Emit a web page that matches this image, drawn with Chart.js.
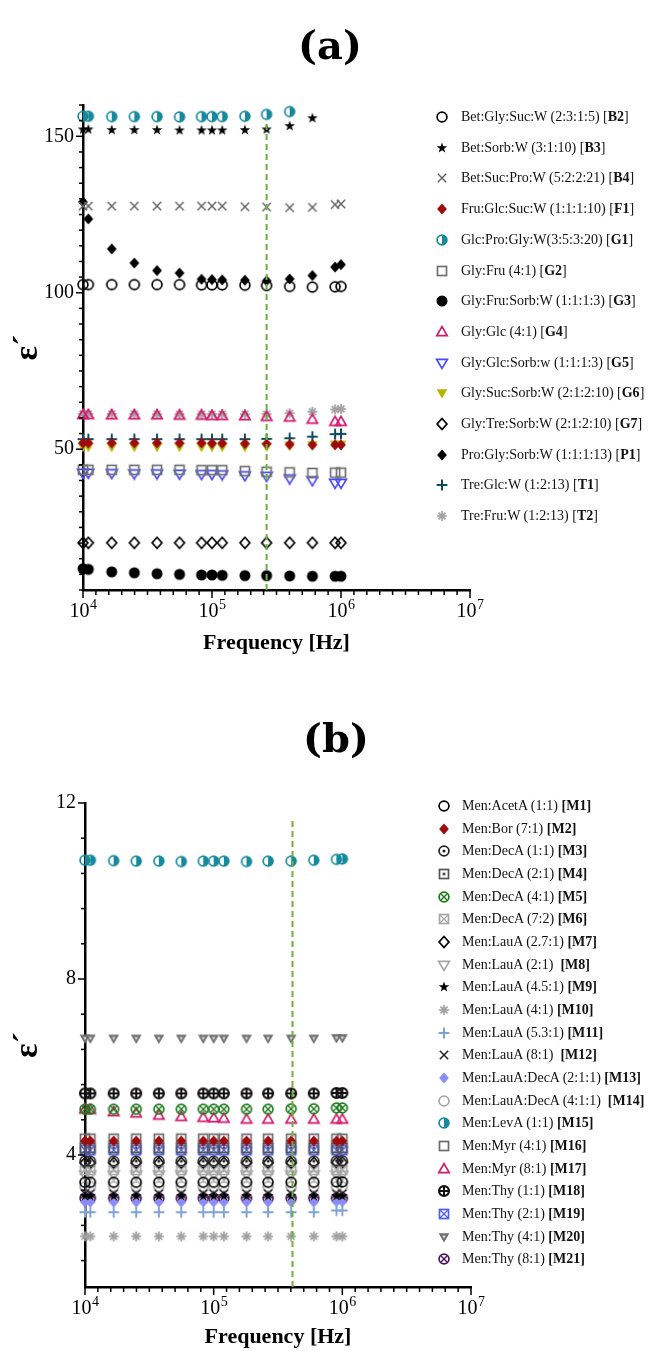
<!DOCTYPE html>
<html>
<head>
<meta charset="utf-8">
<script src="https://cdn.jsdelivr.net/npm/chart.js@4.4.0/dist/chart.umd.min.js"></script>
<style>
body { margin:0; background:#fff; width:649px; height:1351px; position:relative; overflow:hidden; font-family:'Liberation Serif', serif; }
canvas.chart { position:absolute; left:0; }
#chartA { top:0; }
#chartB { top:690px; }
.ptitle { position:absolute; left:0; width:660px; text-align:center; font:bold 40px 'DejaVu Serif', serif; line-height:50px; color:#000; }
.row { position:absolute; display:flex; align-items:center; height:20px; white-space:pre; font-size:14px; color:#111; }
.row canvas { flex:none; }
</style>
</head>
<body>
<canvas id="chartA" class="chart" width="649" height="665"></canvas>
<canvas id="chartB" class="chart" width="649" height="661"></canvas>
<div class="ptitle" style="top:20px">(a)</div>
<div class="ptitle" style="top:713px;left:6px">(b)</div>
<div id="legendA"></div>
<div id="legendB"></div>
<script>
// frequencies (Hz) measured
const freqs = [10000, 11000, 16700, 25000, 37500, 56000, 83000, 100000, 120000, 180000, 265000, 400000, 600000, 900000, 1000000];

// x axis decades (labels 10^4 .. 10^7)
const xDecades = [4, 5, 6, 7];

// ---------- panel (a) ----------
const yLabelsA = [50, 100, 150];
const yMinA = 5, yMaxA = 160, yStepA = 5;
const cutA = 265000, cutTopA = 154.5;

const namesA = ['Bet:Gly:Suc:W (2:3:1:5)', 'Bet:Sorb:W (3:1:10)', 'Bet:Suc:Pro:W (5:2:2:21)', 'Fru:Glc:Suc:W (1:1:1:10)',
  'Glc:Pro:Gly:W(3:5:3:20)', 'Gly:Fru (4:1)', 'Gly:Fru:Sorb:W (1:1:1:3)', 'Gly:Glc (4:1)', 'Gly:Glc:Sorb:w (1:1:1:3)',
  'Gly:Suc:Sorb:W (2:1:2:10)', 'Gly:Tre:Sorb:W (2:1:2:10)', 'Pro:Gly:Sorb:W (1:1:1:13)', 'Tre:Glc:W (1:2:13)', 'Tre:Fru:W (1:2:13)'];
const codesA = ['B2', 'B3', 'B4', 'F1', 'G1', 'G2', 'G3', 'G4', 'G5', 'G6', 'G7', 'P1', 'T1', 'T2'];

const B2 = [102.6, 102.6, 102.6, 102.6, 102.6, 102.6, 102.5, 102.5, 102.5, 102.4, 102.3, 102.0, 101.8, 101.9, 102.0];
const B3 = [152.2, 152.2, 152.0, 152.0, 152.0, 151.9, 151.9, 151.9, 151.9, 152.0, 152.2, 153.3, 155.8];
const B4 = [127.7, 127.7, 127.7, 127.7, 127.7, 127.7, 127.7, 127.7, 127.7, 127.5, 127.4, 127.2, 127.3, 128.2, 128.4];
const F1 = [52.0, 52.0, 52.0, 52.0, 52.0, 52.0, 52.0, 51.9, 51.9, 51.8, 51.7, 51.5, 51.4, 51.4, 51.4];
const G1 = [156.4, 156.4, 156.3, 156.3, 156.3, 156.2, 156.3, 156.3, 156.3, 156.4, 157.0, 157.9];
const G2 = [43.4, 43.4, 43.4, 43.4, 43.4, 43.4, 43.3, 43.3, 43.3, 43.0, 42.8, 42.6, 42.4, 42.5, 42.5];
const G3 = [11.8, 11.6, 10.8, 10.5, 10.2, 10.0, 9.8, 9.8, 9.7, 9.6, 9.6, 9.5, 9.4, 9.4, 9.4];
const G4 = [61.0, 61.0, 60.9, 60.9, 60.9, 60.8, 60.8, 60.7, 60.7, 60.6, 60.4, 60.2, 59.5, 58.8, 58.8];
const G5 = [42.4, 42.4, 42.3, 42.2, 42.2, 42.1, 42.0, 42.0, 41.9, 41.6, 41.4, 40.6, 40.0, 39.2, 39.2];
const G6 = [50.8, 50.8, 50.8, 50.8, 50.8, 50.8, 50.8, 50.8, 50.8, 50.8, 50.9, 51.2, 51.3, 51.5, 51.5];
const G7 = [20.1, 20.1, 20.1, 20.1, 20.1, 20.1, 20.1, 20.1, 20.1, 20.1, 20.1, 20.1, 20.1, 20.1, 20.1];
const P1 = [129.0, 123.6, 114.0, 109.5, 107.1, 106.3, 104.3, 104.2, 104.1, 104.0, 103.8, 104.4, 105.5, 108.2, 109.0];
const T1 = [53.2, 53.2, 53.2, 53.2, 53.2, 53.2, 53.2, 53.2, 53.2, 53.2, 53.3, 53.5, 54.0, 54.8, 54.9];
const T2 = [61.3, 61.3, 61.3, 61.3, 61.2, 61.2, 61.2, 61.2, 61.2, 61.2, 61.2, 61.5, 62.0, 62.7, 62.9];
const valuesA = [B2, B3, B4, F1, G1, G2, G3, G4, G5, G6, G7, P1, T1, T2];

const shapesA = ['circle', 'star', 'x', 'diamondFill', 'half', 'square', 'circleFill', 'triUp', 'triDown', 'triDownFill', 'diamond', 'diamondFill', 'plus', 'asterisk'];
const colorsA = ['#000', '#000', '#666', '#9E0B0F', '#168A9C', '#707070', '#000', '#D4176B', '#4848F8', '#B5B500', '#000', '#000', '#0E4C5E', '#A0A0A0'];

// ---------- panel (b) ----------
const yLabelsB = [4, 8, 12];
const yMinB = 1, yMaxB = 12, yStepB = 0.8;
const cutB = 410000, cutTopB = 11.62;

const namesB = ['Men:AcetA (1:1)', 'Men:Bor (7:1)', 'Men:DecA (1:1)', 'Men:DecA (2:1)', 'Men:DecA (4:1)', 'Men:DecA (7:2)',
  'Men:LauA (2.7:1)', 'Men:LauA (2:1) ', 'Men:LauA (4.5:1)', 'Men:LauA (4:1)', 'Men:LauA (5.3:1)', 'Men:LauA (8:1) ',
  'Men:LauA:DecA (2:1:1)', 'Men:LauA:DecA (4:1:1) ', 'Men:LevA (1:1)', 'Men:Myr (4:1)', 'Men:Myr (8:1)', 'Men:Thy (1:1)',
  'Men:Thy (2:1)', 'Men:Thy (4:1)', 'Men:Thy (8:1)'];
const codesB = ['M1', 'M2', 'M3', 'M4', 'M5', 'M6', 'M7', 'M8', 'M9', 'M10', 'M11', 'M12', 'M13', 'M14', 'M15', 'M16', 'M17', 'M18', 'M19', 'M20', 'M21'];

const M1 = [3.38, 3.38, 3.38, 3.38, 3.38, 3.38, 3.38, 3.38, 3.38, 3.38, 3.38, 3.38, 3.38, 3.39, 3.39];
const M2 = [4.32, 4.32, 4.32, 4.32, 4.32, 4.32, 4.32, 4.32, 4.32, 4.32, 4.32, 4.32, 4.32, 4.32, 4.32];
const M3 = [3.86, 3.86, 3.86, 3.86, 3.86, 3.86, 3.86, 3.86, 3.86, 3.86, 3.86, 3.86, 3.86, 3.87, 3.87];
const M4 = [4.16, 4.16, 4.16, 4.16, 4.16, 4.16, 4.16, 4.16, 4.16, 4.16, 4.16, 4.16, 4.16, 4.16, 4.16];
const M5 = [5.04, 5.04, 5.04, 5.04, 5.04, 5.04, 5.04, 5.04, 5.04, 5.04, 5.04, 5.05, 5.05, 5.07, 5.07];
const M6 = [3.66, 3.66, 3.66, 3.66, 3.66, 3.66, 3.66, 3.66, 3.66, 3.66, 3.66, 3.66, 3.66, 3.66, 3.66];
const M7 = [3.82, 3.82, 3.82, 3.82, 3.82, 3.82, 3.82, 3.82, 3.82, 3.82, 3.82, 3.82, 3.82, 3.83, 3.83];
const M8 = [3.55, 3.55, 3.55, 3.55, 3.55, 3.55, 3.55, 3.55, 3.55, 3.55, 3.55, 3.55, 3.55, 3.55, 3.55];
const M9 = [3.07, 3.07, 3.07, 3.07, 3.07, 3.07, 3.07, 3.07, 3.07, 3.07, 3.07, 3.07, 3.07, 3.07, 3.07];
const M10 = [2.15, 2.15, 2.15, 2.15, 2.15, 2.15, 2.15, 2.15, 2.15, 2.15, 2.15, 2.15, 2.15, 2.15, 2.15];
const M11 = [2.70, 2.70, 2.70, 2.70, 2.70, 2.70, 2.70, 2.70, 2.70, 2.70, 2.70, 2.70, 2.70, 2.74, 2.74];
const M12 = [3.12, 3.12, 3.12, 3.12, 3.12, 3.12, 3.12, 3.12, 3.12, 3.12, 3.12, 3.12, 3.12, 3.12, 3.12];
const M13 = [2.93, 2.93, 2.93, 2.93, 2.93, 2.93, 2.93, 2.93, 2.93, 2.93, 2.93, 2.93, 2.93, 2.94, 2.94];
const M14 = [3.28, 3.28, 3.28, 3.28, 3.28, 3.28, 3.28, 3.28, 3.28, 3.28, 3.28, 3.28, 3.28, 3.28, 3.28];
const M15 = [10.70, 10.70, 10.69, 10.68, 10.68, 10.67, 10.68, 10.68, 10.68, 10.67, 10.68, 10.68, 10.70, 10.72, 10.73];
const M16 = [4.37, 4.37, 4.37, 4.37, 4.37, 4.37, 4.37, 4.37, 4.37, 4.37, 4.37, 4.37, 4.37, 4.37, 4.37];
const M17 = [5.04, 5.03, 4.98, 4.95, 4.90, 4.87, 4.85, 4.84, 4.83, 4.81, 4.81, 4.81, 4.81, 4.81, 4.81];
const M18 = [5.40, 5.40, 5.40, 5.40, 5.40, 5.40, 5.40, 5.40, 5.40, 5.40, 5.40, 5.40, 5.40, 5.41, 5.41];
const M19 = [4.11, 4.11, 4.11, 4.11, 4.11, 4.11, 4.11, 4.11, 4.11, 4.11, 4.11, 4.11, 4.11, 4.11, 4.11];
const M20 = [6.65, 6.65, 6.65, 6.65, 6.65, 6.65, 6.65, 6.65, 6.65, 6.65, 6.65, 6.65, 6.65, 6.66, 6.66];
const M21 = [3.02, 3.02, 3.02, 3.02, 3.02, 3.02, 3.02, 3.02, 3.02, 3.02, 3.02, 3.02, 3.02, 3.02, 3.02];
const valuesB = [M1, M2, M3, M4, M5, M6, M7, M8, M9, M10, M11, M12, M13, M14, M15, M16, M17, M18, M19, M20, M21];

const shapesB = ['circle', 'diamondFill', 'circleDot', 'squareDot', 'circleX', 'squareX', 'diamond', 'triDown', 'star', 'asterisk', 'plus', 'x',
  'diamondFill', 'circle', 'half', 'square', 'triUp', 'circlePlus', 'squareX', 'triDownGray', 'circleX'];
const colorsB = ['#000', '#9E0B0F', '#222', '#555', '#1C7A1C', '#A8A8A8', '#000', '#A8A8A8', '#000', '#A0A0A0', '#7FA3D6', '#222',
  '#8C8CF8', '#A8A8A8', '#168A9C', '#6A6A6A', '#D4176B', '#111', '#4E5EE8', '#6E6E6E', '#4B1060'];

// marker images
function makeMarker(shape, color) {
  const size = 14;
  const c = document.createElement('canvas');
  c.width = size; c.height = size;
  const g = c.getContext('2d');
  const m = size / 2, r = 4.9;
  g.strokeStyle = color; g.fillStyle = color; g.lineWidth = 1.7;
  const line = (x1, y1, x2, y2) => { g.beginPath(); g.moveTo(x1, y1); g.lineTo(x2, y2); g.stroke(); };
  const circ = () => { g.beginPath(); g.arc(m, m, r, 0, Math.PI * 2); };
  const sq = r * 0.92;
  switch (shape) {
    case 'circle': circ(); g.stroke(); break;
    case 'circleFill': g.beginPath(); g.arc(m, m, r + 0.6, 0, Math.PI * 2); g.fill(); break;
    case 'circleDot': circ(); g.stroke(); g.beginPath(); g.arc(m, m, 1.5, 0, Math.PI * 2); g.fill(); break;
    case 'circleX': circ(); g.stroke(); g.lineWidth = 1.3;
      line(m - r * 0.7, m - r * 0.7, m + r * 0.7, m + r * 0.7); line(m - r * 0.7, m + r * 0.7, m + r * 0.7, m - r * 0.7); break;
    case 'circlePlus': g.lineWidth = 2.3; circ(); g.stroke(); g.lineWidth = 2;
      line(m - r, m, m + r, m); line(m, m - r, m, m + r); break;
    case 'half': circ(); g.stroke(); g.beginPath(); g.arc(m, m, r, -Math.PI / 2, Math.PI / 2); g.closePath(); g.fill(); break;
    case 'square': g.strokeRect(m - sq, m - sq, sq * 2, sq * 2); break;
    case 'squareDot': g.strokeRect(m - sq, m - sq, sq * 2, sq * 2); g.fillRect(m - 1.4, m - 1.4, 2.8, 2.8); break;
    case 'squareX': g.strokeRect(m - sq, m - sq, sq * 2, sq * 2); g.lineWidth = 1.2;
      line(m - sq, m - sq, m + sq, m + sq); line(m - sq, m + sq, m + sq, m - sq); break;
    case 'diamond':
    case 'diamondFill':
      g.beginPath(); g.moveTo(m, m - r - 0.6); g.lineTo(m + r, m); g.lineTo(m, m + r + 0.6); g.lineTo(m - r, m); g.closePath();
      if (shape === 'diamond') g.stroke(); else g.fill(); break;
    case 'triUp':
      g.beginPath(); g.moveTo(m, m - r - 0.5); g.lineTo(m + r + 0.3, m + r * 0.75); g.lineTo(m - r - 0.3, m + r * 0.75); g.closePath(); g.stroke(); break;
    case 'triDown':
    case 'triDownFill':
    case 'triDownGray':
      g.beginPath(); g.moveTo(m, m + r + 0.5); g.lineTo(m + r + 0.5, m - r * 0.75); g.lineTo(m - r - 0.5, m - r * 0.75); g.closePath();
      if (shape === 'triDown') g.stroke(); else g.fill();
      if (shape === 'triDownGray') {
        g.fillStyle = '#d8d8d8';
        g.beginPath(); g.moveTo(m, m + 2); g.lineTo(m + 1.8, m - 1.4); g.lineTo(m - 1.8, m - 1.4); g.closePath(); g.fill();
      }
      break;
    case 'star':
      g.beginPath();
      for (let i = 0; i < 10; i++) {
        const a = -Math.PI / 2 + i * Math.PI / 5, rr = i % 2 ? r * 0.45 : r + 0.6;
        g.lineTo(m + rr * Math.cos(a), m + rr * Math.sin(a));
      }
      g.closePath(); g.fill(); break;
    case 'x': g.lineWidth = 1.5; line(m - r * 0.85, m - r * 0.85, m + r * 0.85, m + r * 0.85); line(m - r * 0.85, m + r * 0.85, m + r * 0.85, m - r * 0.85); break;
    case 'plus': g.lineWidth = 2; line(m - r - 0.5, m, m + r + 0.5, m); line(m, m - r - 0.5, m, m + r + 0.5); break;
    case 'asterisk': g.lineWidth = 1.7;
      for (let i = 0; i < 4; i++) {
        const a = i * Math.PI / 4;
        line(m - r * Math.cos(a), m - r * Math.sin(a), m + r * Math.cos(a), m + r * Math.sin(a));
      }
      break;
  }
  return c;
}

function isPow10(v) {
  const e = Math.log10(v);
  return Math.abs(e - Math.round(e)) < 1e-9;
}

// tick marks (major / minor) and the 10^n labels, drawn through the scales
const tickMarks = {
  id: 'tickMarks',
  afterDraw(chart) {
    const ctx = chart.ctx, a = chart.chartArea, xs = chart.scales.x, ys = chart.scales.y;
    ctx.save();
    ctx.strokeStyle = '#000';
    ctx.lineWidth = 1.5;
    xs.ticks.forEach(t => {
      const px = xs.getPixelForValue(t.value);
      ctx.beginPath(); ctx.moveTo(px, a.bottom); ctx.lineTo(px, a.bottom + (isPow10(t.value) ? 8 : 5)); ctx.stroke();
    });
    ys.ticks.forEach(t => {
      const py = ys.getPixelForValue(t.value);
      ctx.beginPath(); ctx.moveTo(a.left, py); ctx.lineTo(a.left - (t.label ? 7 : 4), py); ctx.stroke();
    });
    ctx.fillStyle = '#000';
    ctx.textBaseline = 'alphabetic';
    ctx.textAlign = 'left';
    xDecades.forEach(e => {
      const px = xs.getPixelForValue(Math.pow(10, e));
      ctx.font = '20px "Liberation Serif"';
      const w1 = ctx.measureText('10').width;
      ctx.font = '14px "Liberation Serif"';
      const w2 = ctx.measureText(String(e)).width;
      const x0 = px - (w1 + w2) / 2;
      const base = a.bottom + 27;
      ctx.font = '20px "Liberation Serif"';
      ctx.fillText('10', x0, base);
      ctx.font = '14px "Liberation Serif"';
      ctx.fillText(String(e), x0 + w1 + 0.5, base - 8);
    });
    ctx.restore();
  }
};

function buildChart(id, opts) {
  const datasets = opts.values.map((vals, i) => ({
    label: opts.names[i],
    data: vals.map((v, j) => ({x: freqs[j], y: v})),
    pointStyle: makeMarker(opts.shapes[i], opts.colors[i]),
    pointRadius: 7,
    borderWidth: 0,
    clip: false
  }));
  datasets.push({
    label: 'cut',
    data: [{x: opts.cut, y: opts.yMin}, {x: opts.cut, y: opts.cutTop}],
    showLine: true,
    pointRadius: 0,
    borderColor: '#6AB23C',
    borderWidth: 2,
    borderDash: [6, 4],
    order: -1
  });

  return new Chart(document.getElementById(id), {
    type: 'scatter',
    data: {datasets},
    options: {
      responsive: false,
      animation: false,
      events: [],
      layout: {padding: {top: opts.padTop, right: opts.padRight, bottom: 0, left: 0}},
      plugins: {legend: {display: false}, tooltip: {enabled: false}},
      scales: {
        x: {
          type: 'logarithmic',
          min: 1e4,
          max: 1e7,
          afterFit: s => { s.height = opts.xHeight; },
          afterBuildTicks: s => {
            const t = [];
            xDecades.forEach(e => {
              const n = e === xDecades[xDecades.length - 1] ? 1 : 10;
              for (let k = 0; k < n; k++) t.push({value: Math.pow(10, e + k / 10), major: k === 0});
            });
            s.ticks = t;
          },
          grid: {display: true, drawOnChartArea: false, drawTicks: false},
          border: {display: true, color: '#000', width: 2.5},
          ticks: {
            autoSkip: false, maxRotation: 0, padding: 9, color: '#000',
            font: {family: 'Liberation Serif', size: 20},
            callback: () => ''
          },
          title: {display: true, text: 'Frequency [Hz]', color: '#000',
            font: {family: 'Liberation Serif', size: 22, weight: 'bold'}, padding: {top: 0, bottom: opts.xTitlePad}}
        },
        y: {
          type: 'linear',
          min: opts.yMin,
          max: opts.yMax,
          afterFit: s => { s.width = opts.yWidth; },
          afterBuildTicks: s => {
            const t = [];
            const n = Math.round((opts.yMax - opts.yMin) / opts.yStep);
            for (let k = 0; k <= n; k++) {
              const v = Math.round((opts.yMax - k * opts.yStep) * 100) / 100;
              if (v > opts.yMin + 1e-6 || Math.abs(v - opts.yMin) < 1e-6) t.push({value: v});
            }
            s.ticks = t.reverse();
          },
          grid: {display: true, drawOnChartArea: false, drawTicks: false},
          border: {display: true, color: '#000', width: 2.5},
          ticks: {
            autoSkip: false, padding: 9, color: '#000',
            font: {family: 'Liberation Serif', size: 20},
            callback: v => opts.yLabels.some(L => Math.abs(L - v) < 1e-6) ? String(Math.round(v)) : ''
          },
          title: {display: true, text: 'ε´', color: '#000',
            font: {family: 'Liberation Serif', size: 34, weight: 'bold'}, padding: {top: 8, bottom: 0}}
        }
      }
    },
    plugins: [tickMarks]
  });
}

function buildLegend(id, names, codes, shapes, colors, y0, dy, mx, tx, boldBrackets) {
  const box = document.getElementById(id);
  names.forEach((n, i) => {
    const row = document.createElement('div');
    row.className = 'row';
    row.style.left = (mx - 7) + 'px';
    row.style.top = (y0 + i * dy - 10) + 'px';
    row.appendChild(makeMarker(shapes[i], colors[i]));
    const sp = document.createElement('span');
    sp.style.marginLeft = (tx - mx - 7) + 'px';
    sp.innerHTML = boldBrackets ? n + ' <b>[' + codes[i] + ']</b>' : n + ' [<b>' + codes[i] + '</b>]';
    row.appendChild(sp);
    box.appendChild(row);
  });
}

buildChart('chartA', {
  values: valuesA, names: namesA, shapes: shapesA, colors: colorsA,
  yMin: yMinA, yMax: yMaxA, yStep: yStepA, yLabels: yLabelsA,
  cut: cutA, cutTop: cutTopA,
  padTop: 105, padRight: 179, xHeight: 75, yWidth: 83, xTitlePad: 8
});
buildChart('chartB', {
  values: valuesB, names: namesB, shapes: shapesB, colors: colorsB,
  yMin: yMinB, yMax: yMaxB, yStep: yStepB, yLabels: yLabelsB,
  cut: cutB, cutTop: cutTopB,
  padTop: 113, padRight: 178, xHeight: 64, yWidth: 85, xTitlePad: 0
});

buildLegend('legendA', namesA, codesA, shapesA, colorsA, 117, 30.7, 442, 461, false);
buildLegend('legendB', namesB, codesB, shapesB, colorsB, 806, 22.66, 444, 462, true);
</script>
</body>
</html>
